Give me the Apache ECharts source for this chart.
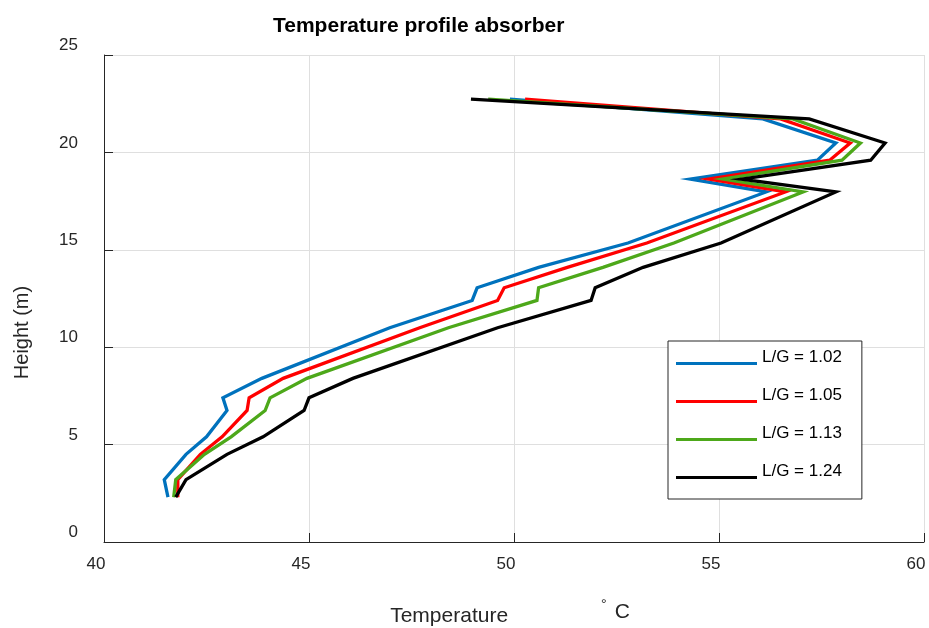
<!DOCTYPE html>
<html>
<head>
<meta charset="utf-8">
<script src="https://cdn.jsdelivr.net/npm/echarts@6/dist/echarts.min.js"></script>
<style>
html,body{margin:0;padding:0;background:#fff;}
#chart{width:929px;height:628px;}
</style>
</head>
<body>
<div id="chart"></div>
<script>
// Heights (m) of the profile points, shared by all series
const heights = [2.3, 3.2, 4.5, 5.4, 6.75, 7.4, 8.4, 11.0, 12.4, 13.05, 14.1, 15.35, 17.97, 18.63, 19.6, 20.48, 21.72, 22.74];
// Temperatures (°C) per L/G ratio
const tempLG102 = [41.56, 41.47, 42.0, 42.5, 43.0, 42.9, 43.85, 46.97, 48.98, 49.1, 50.6, 52.78, 56.15, 54.3, 57.4, 57.85, 56.07, 49.9];
const tempLG105 = [41.8, 41.8, 42.35, 42.88, 43.49, 43.54, 44.37, 47.7, 49.6, 49.76, 51.3, 53.24, 56.62, 54.75, 57.7, 58.2, 56.5, 50.27];
const tempLG113 = [41.7, 41.75, 42.45, 43.1, 43.93, 44.05, 44.95, 48.4, 50.56, 50.6, 52.17, 53.9, 57.05, 55.1, 58.0, 58.45, 56.8, 49.37];
const tempLG124 = [41.75, 42.0, 43.0, 43.88, 44.88, 45.0, 46.07, 49.6, 51.88, 51.98, 53.15, 55.05, 57.85, 55.55, 58.7, 59.05, 57.2, 48.95];
const seriesNames = ['L/G = 1.02', 'L/G = 1.05', 'L/G = 1.13', 'L/G = 1.24'];
const seriesColors = ['#0072BD', '#FF0000', '#4DA81A', '#000000'];
const xTicks = [40, 45, 50, 55, 60];
const yTicks = [0, 5, 10, 15, 20, 25];

const temps = [tempLG102, tempLG105, tempLG113, tempLG124];
const chart = echarts.init(document.getElementById('chart'), null, {renderer: 'canvas'});
const font = 'Liberation Sans, Arial, Helvetica, sans-serif';
const textCol = '#262626';

const option = {
  animation: false,
  backgroundColor: '#ffffff',
  title: {
    text: 'Temperature profile absorber',
    left: 268,
    top: 11,
    textStyle: {fontFamily: font, fontSize: 21, fontWeight: 'bold', color: '#000'}
  },
  grid: {left: 104, right: 5, top: 55, bottom: 86, containLabel: false, outerBoundsMode: 'none'},
  legend: {
    orient: 'vertical',
    left: 668,
    top: 341,
    icon: 'rect',
    itemWidth: 81,
    itemHeight: 3,
    itemGap: 9,
    padding: [8, 20, 7, 8],
    backgroundColor: '#ffffff',
    borderColor: '#262626',
    borderWidth: 1,
    borderRadius: 0,
    selectedMode: false,
    formatter: '{name}\n',
    textStyle: {fontFamily: font, fontSize: 17, color: '#000', lineHeight: 12},
    data: seriesNames
  },
  xAxis: {
    type: 'value',
    min: xTicks[0],
    max: xTicks[xTicks.length - 1],
    interval: 5,
    name: '{t|Temperature}{d|°}{c|C}',
    nameLocation: 'middle',
    nameGap: 56,
    nameTextStyle: {
      fontFamily: font, color: textCol,
      rich: {
        t: {fontFamily: font, fontSize: 21, color: textCol, padding: [0, 93, 0, 0]},
        d: {fontFamily: font, fontSize: 14, color: textCol, padding: [0, 8, 22, 0]},
        c: {fontFamily: font, fontSize: 21, color: textCol, padding: [0, 8, 7, 0]}
      }
    },
    axisLine: {show: true, onZero: false, lineStyle: {color: textCol, width: 1}},
    axisTick: {show: true, inside: true, length: 9, lineStyle: {color: textCol}},
    axisLabel: {fontFamily: font, fontSize: 17, color: textCol, margin: 14, padding: [0, 16, 0, 0]},
    splitLine: {show: true, lineStyle: {color: '#dfdfdf', width: 1}}
  },
  yAxis: {
    type: 'value',
    min: yTicks[0],
    max: yTicks[yTicks.length - 1],
    interval: 5,
    name: 'Height (m)',
    nameLocation: 'middle',
    nameGap: 72,
    nameTextStyle: {fontFamily: font, fontSize: 20, color: textCol, padding: [0, 68, 0, 0]},
    axisLine: {show: true, onZero: false, lineStyle: {color: textCol, width: 1}},
    axisTick: {show: true, inside: true, length: 9, lineStyle: {color: textCol}},
    axisLabel: {fontFamily: font, fontSize: 17, color: textCol, margin: 26, verticalAlign: 'bottom', lineHeight: 19},
    splitLine: {show: true, lineStyle: {color: '#dfdfdf', width: 1}}
  },
  series: seriesNames.map((name, i) => ({
    name: name,
    type: 'line',
    data: temps[i].map((t, k) => [t, heights[k]]),
    showSymbol: false,
    symbol: 'none',
    smooth: false,
    color: seriesColors[i],
    lineStyle: {color: seriesColors[i], width: 3.3, join: 'miter'},
    itemStyle: {color: seriesColors[i]},
    z: 2 + i
  }))
};
chart.setOption(option);
</script>
</body>
</html>
